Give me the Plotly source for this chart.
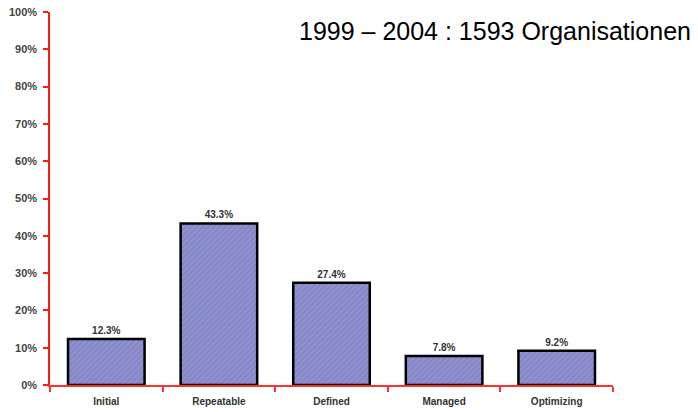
import plotly.graph_objects as go

# CMM maturity levels and share of assessed organisations (%)
levels = ["Initial", "Repeatable", "Defined", "Managed", "Optimizing"]
shares = [12.3, 43.3, 27.4, 7.8, 9.2]
share_labels = ["12.3%", "43.3%", "27.4%", "7.8%", "9.2%"]
y_ticks = list(range(0, 101, 10))
y_tick_labels = [f"{v}%" for v in y_ticks]

fig = go.Figure()
fig.add_trace(go.Bar(
    x=levels,
    y=shares,
    width=0.68,
    text=[f"<b>{t}</b>" for t in share_labels],
    textposition="outside",
    cliponaxis=False,
    textfont=dict(family="Liberation Sans, Arial", size=10, color="#333333"),
    marker=dict(
        color="#9092d0",
        line=dict(color="#000000", width=2.5),
        pattern=dict(shape="/", fgcolor="#6d70b4", size=4, solidity=0.35),
    ),
))

fig.update_layout(
    width=698,
    height=412,
    margin=dict(l=50, r=85, t=12, b=27, autoexpand=False),
    paper_bgcolor="white",
    plot_bgcolor="white",
    showlegend=False,
    font=dict(family="Liberation Sans, Arial", color="#333333"),
)

fig.update_xaxes(
    type="category",
    range=[-0.5, 4.5],
    automargin=False,
    showline=True,
    linecolor="#ff3030",
    linewidth=1.5,
    ticks="outside",
    tickson="boundaries",
    ticklen=5,
    tickcolor="#ff3030",
    tickwidth=1.5,
    showgrid=False,
    zeroline=False,
    tickvals=levels,
    ticktext=[f"<b>{c}</b>" for c in levels],
    tickfont=dict(family="Liberation Sans, Arial", size=10, color="#333333"),
    ticklabelstandoff=6,
)

fig.update_yaxes(
    range=[0, 100],
    automargin=False,
    tickvals=y_ticks,
    ticktext=[f"<b>{t}</b>" for t in y_tick_labels],
    showline=True,
    linecolor="#ff1a1a",
    linewidth=1.5,
    ticks="outside",
    ticklen=5,
    tickcolor="#ff1a1a",
    tickwidth=1.5,
    showgrid=False,
    zeroline=False,
    tickfont=dict(family="Liberation Sans, Arial", size=11, color="#444444"),
    ticklabelstandoff=4,
)

fig.add_annotation(
    text="1999 – 2004 : 1593 Organisationen",
    xref="paper", yref="paper",
    x=1.142, y=0.95,
    xanchor="right", yanchor="middle",
    showarrow=False,
    font=dict(family="Liberation Sans, Arial", size=25, color="#000000"),
)

fig.write_html("out.html")
